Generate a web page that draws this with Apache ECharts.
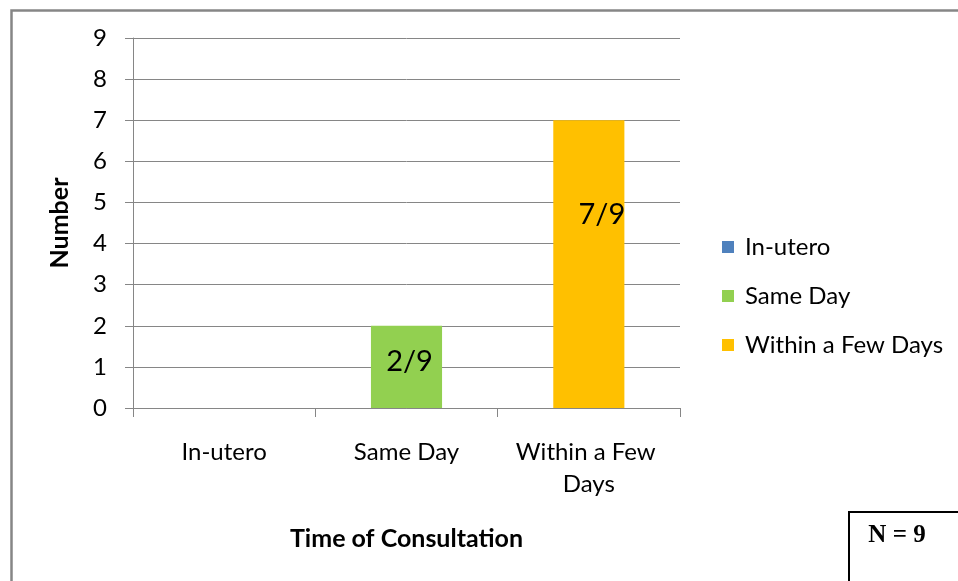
<!DOCTYPE html>
<html>
<head>
<meta charset="utf-8">
<script src="https://cdn.jsdelivr.net/npm/echarts@6/dist/echarts.min.js"></script>
<style>
  html, body { margin: 0; padding: 0; background: #fff; }
  #chart { width: 958px; height: 581px; }
</style>
</head>
<body>
<div id="chart"></div>
<script>
// Time of consultation for the cohort
const categories = ['In-utero', 'Same Day', 'Within a Few Days'];
const seriesNames = ['In-utero', 'Same Day', 'Within a Few Days'];
const counts = [0, 2, 7];
const colors = ['#4F81BD', '#92D050', '#FFC000'];
const yTicks = [0, 1, 2, 3, 4, 5, 6, 7, 8, 9];

const total = counts.reduce((a, b) => a + b, 0);
const FONT = 'Lato, "Open Sans", sans-serif';

// Per-series label nudges inside the bars
const labelOffsets = [[0, 0], [3, -5], [13, -49]];

const series = seriesNames.map((name, i) => ({
  name: name,
  type: 'bar',
  stack: 'one',
  barWidth: '39%',
  itemStyle: { color: colors[i] },
  data: categories.map((c, j) => (j === i && counts[i] > 0 ? counts[i] : '-')),
  label: {
    show: counts[i] > 0,
    position: 'inside',
    offset: labelOffsets[i],
    color: '#000',
    fontFamily: FONT,
    fontSize: 29,
    formatter: p => p.value + '/' + total
  }
}));

const chart = echarts.init(document.getElementById('chart'), null, { renderer: 'canvas' });
chart.setOption({
  animation: false,
  backgroundColor: '#fff',
  grid: { left: 133, right: 278, top: 38, bottom: 173, containLabel: false },
  legend: {
    orient: 'vertical',
    left: 722,
    top: 235,
    padding: 0,
    itemWidth: 12,
    itemHeight: 12,
    itemGap: 25,
    icon: 'rect',
    data: seriesNames,
    textStyle: { fontFamily: FONT, fontSize: 24, color: '#000', lineHeight: 24, padding: [0, 0, 0, 6] }
  },
  xAxis: {
    type: 'category',
    data: categories,
    name: 'Time of Consultation',
    nameLocation: 'middle',
    nameGap: 118,
    nameTextStyle: { fontFamily: FONT, fontSize: 25, fontWeight: 'bold', color: '#000' },
    axisLine: { lineStyle: { color: '#868686', width: 1 } },
    axisTick: { show: true, length: 9, lineStyle: { color: '#868686' } },
    axisLabel: {
      interval: 0,
      fontFamily: FONT, fontSize: 24, color: '#000', margin: 28,
      lineHeight: 32, width: 160, overflow: 'break'
    }
  },
  yAxis: {
    type: 'value',
    min: yTicks[0],
    max: yTicks[yTicks.length - 1],
    interval: 1,
    name: 'Number',
    nameLocation: 'middle',
    nameGap: 61,
    nameRotate: 90,
    nameTextStyle: { fontFamily: FONT, fontSize: 25, fontWeight: 'bold', color: '#000' },
    axisLine: { show: true, lineStyle: { color: '#868686', width: 1 } },
    axisTick: { show: true, length: 8, lineStyle: { color: '#868686' } },
    splitLine: { show: true, lineStyle: { color: '#868686', width: 1 } },
    axisLabel: { fontFamily: FONT, fontSize: 24, color: '#000', margin: 26 }
  },
  graphic: [
    {
      type: 'rect',
      left: 9, top: 8,
      shape: { width: 1100, height: 800 },
      style: { fill: 'none', stroke: '#868686', lineWidth: 2.5 },
      silent: true, z: -1
    },
    {
      type: 'rect',
      left: 848, top: 511,
      shape: { width: 300, height: 300 },
      style: { fill: '#fff', stroke: '#000', lineWidth: 2 },
      silent: true
    },
    {
      type: 'text',
      x: 897, y: 536,
      style: {
        text: 'N = ' + total,
        fill: '#000',
        align: 'center',
        verticalAlign: 'middle',
        font: 'bold 25px "Liberation Serif", "Times New Roman", serif'
      },
      silent: true
    }
  ],
  series: series
});
</script>
</body>
</html>
